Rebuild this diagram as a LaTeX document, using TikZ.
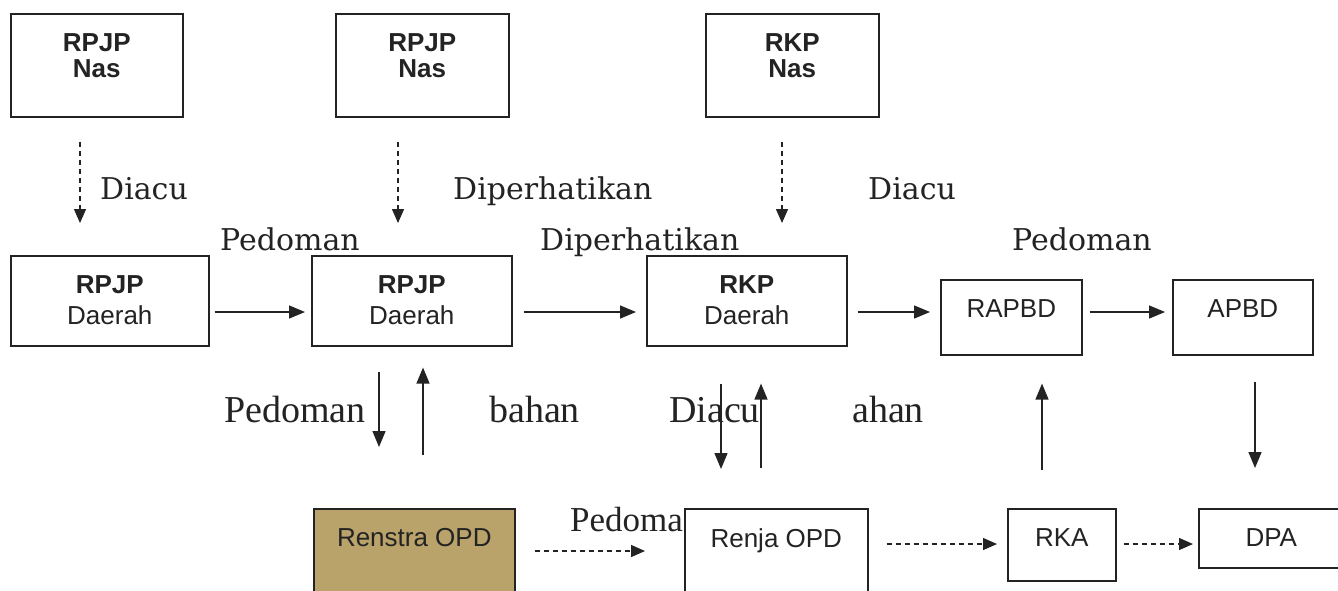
\documentclass[tikz,border=0pt]{standalone}
\usepackage{fontspec}
\setmainfont{Liberation Serif}
\setsansfont{Liberation Sans}
\newfontfamily\bookman{DejaVu Serif}
\usetikzlibrary{arrows.meta}
\definecolor{renstrafill}{RGB}{185,163,107}
\definecolor{tinta}{RGB}{35,35,35}
\begin{document}
\begin{tikzpicture}[x=1pt,y=-1pt,
dok/.style={draw=tinta,line width=1.6pt,inner sep=0pt,fill=white},
isi/.style={font=\fontsize{26}{31}\selectfont\sffamily,align=center,inner sep=0pt,anchor=north,text=tinta},
ket/.style={font=\fontsize{30}{36}\selectfont\bookman,anchor=base west,inner sep=0pt,text=tinta},
ket2/.style={font=\fontsize{38}{44}\selectfont,anchor=base west,inner sep=0pt,text=tinta},
panah/.style={draw=tinta,line width=1.4pt,-{Triangle[length=16pt,width=13pt]}},
putus/.style={draw=tinta,line width=1.4pt,dash pattern=on 5pt off 4pt,-{Triangle[length=14pt,width=12pt]}}]
\useasboundingbox[fill=white](0,0)rectangle(1338,590);
\newcommand{\Dok}[6]{
\node[dok,#1,minimum width=#4,minimum height=#5,anchor=north west](#2)at(#3){};
\node[isi](#2t)at([yshift=-20pt]#2.north){#6};}
% labels
\node[ket](l1)at(100,199){Diacu};
\node[ket](l2)at(453,199){Diperhatikan};
\node[ket](l3)at(868,199){Diacu};
\node[ket](l4)at(220,250){Pedoman};
\node[ket](l5)at(540,250){Diperhatikan};
\node[ket](l6)at(1012,250){Pedoman};
\node[ket2](l7)at(224,422){Pedoman};
\node[ket2](l8)at(489,422){bahan};
\node[ket2](l9)at(669,422){Diacu};
\node[ket2](l10)at(852,422){ahan};
\node[ket2,font=\fontsize{35}{40}\selectfont](l11)at(570,531){Pedoma};
% boxes
\Dok{}{nasA}{10,13}{172}{103}{\textbf{RPJP}\\[-5pt]\textbf{Nas}}
\Dok{}{nasB}{335,13}{173}{103}{\textbf{RPJP}\\[-5pt]\textbf{Nas}}
\Dok{}{nasC}{705,13}{173}{103}{\textbf{RKP}\\[-5pt]\textbf{Nas}}
\Dok{}{dA}{10,255}{198}{90}{\textbf{RPJP}\\Daerah}
\Dok{}{dB}{311,255}{200}{90}{\textbf{RPJP}\\Daerah}
\Dok{}{dC}{646,255}{200}{90}{\textbf{RKP}\\Daerah}
\Dok{}{rapbd}{940,279}{141}{75}{RAPBD}
\Dok{}{apbd}{1172,279}{140}{75}{APBD}
\Dok{fill=renstrafill}{renstra}{313,508}{201}{100}{Renstra OPD}
\Dok{}{renja}{684,508}{183}{100}{Renja OPD}
\Dok{}{rka}{1007,508}{108}{72}{RKA}
\Dok{}{dpa}{1198,508}{145}{59}{DPA}
% dashed, top
\draw[putus,shorten <=24pt,shorten >=32pt](nasA.south -| 80,0)--(dA.north -| 80,0);
\draw[putus,shorten <=24pt,shorten >=32pt](nasB.south -| 398,0)--(dB.north -| 398,0);
\draw[putus,shorten <=24pt,shorten >=32pt](nasC.south -| 782,0)--(dC.north -| 782,0);
% middle row
\draw[panah,shorten <=5pt,shorten >=6pt](dA.east |- 0,312)--(dB.west |- 0,312);
\draw[panah,shorten <=11pt,shorten >=10pt](dB.east |- 0,312)--(dC.west |- 0,312);
\draw[panah,shorten <=10pt,shorten >=10pt](dC.east |- 0,312)--(rapbd.west |- 0,312);
\draw[panah,shorten <=7pt,shorten >=7pt](rapbd.east |- 0,312)--(apbd.west |- 0,312);
% up and down
\draw[panah,shorten <=25pt,shorten >=61pt](dB.south -| 379,0)--(renstra.north -| 379,0);
\draw[panah,shorten <=53pt,shorten >=21pt](renstra.north -| 423,0)--(dB.south -| 423,0);
\draw[panah,shorten <=37pt,shorten >=39pt](dC.south -| 721,0)--(renja.north -| 721,0);
\draw[panah,shorten <=40pt,shorten >=37pt](renja.north -| 761,0)--(dC.south -| 761,0);
\draw[panah,shorten <=38pt,shorten >=28pt](rka.north -| 1042,0)--(rapbd.south -| 1042,0);
\draw[panah,shorten <=26pt,shorten >=40pt](apbd.south -| 1255,0)--(dpa.north -| 1255,0);
% dashed, bottom
\draw[putus,shorten <=19pt,shorten >=39pt](renstra.east |- 0,551)--(renja.west |- 0,551);
\draw[putus,shorten <=18pt,shorten >=10pt](renja.east |- 0,544)--(rka.west |- 0,544);
\draw[putus,shorten <=7pt,shorten >=5pt](rka.east |- 0,544)--(dpa.west |- 0,544);
\end{tikzpicture}
\end{document}
